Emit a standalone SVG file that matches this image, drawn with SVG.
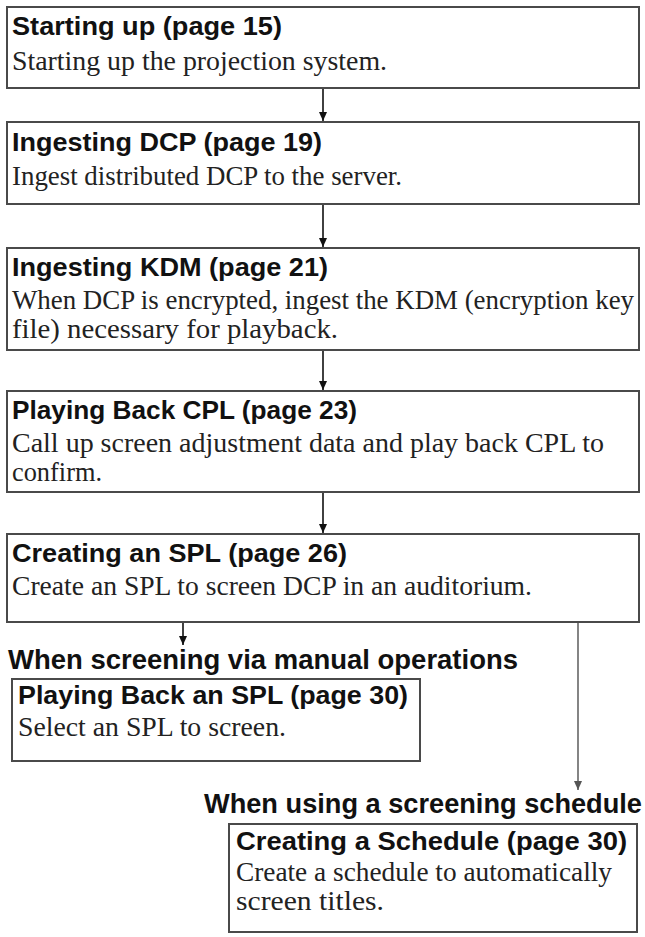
<svg xmlns="http://www.w3.org/2000/svg" width="645" height="937" viewBox="0 0 645 937">
<defs>
<marker id="ah" markerWidth="10" markerHeight="10" refX="9" refY="5" orient="auto" markerUnits="userSpaceOnUse">
<path d="M0,1 L9,5 L0,9 z" fill="#111"/>
</marker>
<marker id="ahg" markerWidth="10" markerHeight="10" refX="9" refY="5" orient="auto" markerUnits="userSpaceOnUse">
<path d="M0,1 L9,5 L0,9 z" fill="#555"/>
</marker>
</defs>
<style>
.box{fill:#fff;stroke:#4a4a4a;stroke-width:2}
.t{font-family:"Liberation Sans",Arial,sans-serif;font-weight:bold;font-size:26px;fill:#111}
.h{font-family:"Liberation Sans",Arial,sans-serif;font-weight:bold;font-size:27px;fill:#111}
.d{font-family:"Liberation Serif","Times New Roman",serif;font-size:27px;fill:#222}
.c{stroke:#111;stroke-width:1.6;fill:none;marker-end:url(#ah)}
.cg{stroke:#666;stroke-width:1.6;fill:none;marker-end:url(#ahg)}
</style>
<rect width="645" height="937" fill="#fff"/>
<g id="connectors">
<line class="c" x1="323" y1="89" x2="323" y2="121"/>
<line class="c" x1="323" y1="205" x2="323" y2="247"/>
<line class="c" x1="323" y1="351" x2="323" y2="390"/>
<line class="c" x1="323" y1="493" x2="323" y2="533"/>
<line class="c" x1="183" y1="623" x2="183" y2="645"/>
<line class="cg" x1="578" y1="618" x2="578" y2="790"/>
</g>
<g id="n1">
<rect class="box" x="7" y="7" width="632" height="81"/>
<text class="t" x="12" y="35" textLength="270" lengthAdjust="spacingAndGlyphs">Starting up (page 15)</text>
<text class="d" x="12" y="70" textLength="375" lengthAdjust="spacingAndGlyphs">Starting up the projection system.</text>
</g>
<g id="n2">
<rect class="box" x="7" y="122" width="632" height="82"/>
<text class="t" x="12" y="151" textLength="310" lengthAdjust="spacingAndGlyphs">Ingesting DCP (page 19)</text>
<text class="d" x="12" y="185" textLength="390" lengthAdjust="spacingAndGlyphs">Ingest distributed DCP to the server.</text>
</g>
<g id="n3">
<rect class="box" x="7" y="248" width="632" height="102"/>
<text class="t" x="12" y="276" textLength="316" lengthAdjust="spacingAndGlyphs">Ingesting KDM (page 21)</text>
<text class="d" x="12" y="309" textLength="622" lengthAdjust="spacingAndGlyphs">When DCP is encrypted, ingest the KDM (encryption key</text>
<text class="d" x="12" y="338" textLength="326" lengthAdjust="spacingAndGlyphs">file) necessary for playback.</text>
</g>
<g id="n4">
<rect class="box" x="7" y="391" width="632" height="101"/>
<text class="t" x="12" y="419" textLength="345" lengthAdjust="spacingAndGlyphs">Playing Back CPL (page 23)</text>
<text class="d" x="12" y="452" textLength="592" lengthAdjust="spacingAndGlyphs">Call up screen adjustment data and play back CPL to</text>
<text class="d" x="12" y="481" textLength="90" lengthAdjust="spacingAndGlyphs">confirm.</text>
</g>
<g id="n5">
<rect class="box" x="7" y="534" width="632" height="88"/>
<text class="t" x="12" y="562" textLength="335" lengthAdjust="spacingAndGlyphs">Creating an SPL (page 26)</text>
<text class="d" x="12" y="595" textLength="520" lengthAdjust="spacingAndGlyphs">Create an SPL to screen DCP in an auditorium.</text>
</g>
<text class="h" x="8" y="669" textLength="510" lengthAdjust="spacingAndGlyphs">When screening via manual operations</text>
<g id="n6">
<rect class="box" x="12" y="679" width="408" height="82"/>
<text class="t" x="18" y="704" textLength="390" lengthAdjust="spacingAndGlyphs">Playing Back an SPL (page 30)</text>
<text class="d" x="18" y="736" textLength="268" lengthAdjust="spacingAndGlyphs">Select an SPL to screen.</text>
</g>
<text class="h" x="204" y="813" textLength="438" lengthAdjust="spacingAndGlyphs">When using a screening schedule</text>
<g id="n7">
<rect class="box" x="229" y="824" width="408" height="108"/>
<text class="t" x="236" y="850" textLength="391" lengthAdjust="spacingAndGlyphs">Creating a Schedule (page 30)</text>
<text class="d" x="236" y="881" textLength="376" lengthAdjust="spacingAndGlyphs">Create a schedule to automatically</text>
<text class="d" x="236" y="910" textLength="148" lengthAdjust="spacingAndGlyphs">screen titles.</text>
</g>
</svg>
